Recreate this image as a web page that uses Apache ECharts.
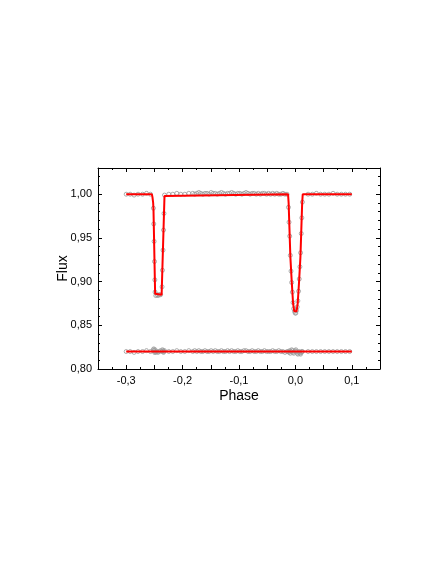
<!DOCTYPE html>
<html>
<head>
<meta charset="utf-8">
<script src="https://cdn.jsdelivr.net/npm/echarts@6/dist/echarts.min.js"></script>
<style>
html,body{margin:0;padding:0;background:#fff;}
#c{width:436px;height:564px;}
</style>
</head>
<body>
<div id="c"></div>
<script>
// Observed light curve points (phase, flux)
const obsPhase = [
  -0.300, -0.293, -0.286, -0.279, -0.271, -0.264, -0.257,
  -0.2518, -0.2511, -0.2505, -0.2498, -0.2492, -0.2488,
  -0.2475, -0.2455, -0.2435, -0.2415, -0.2390,
  -0.2364, -0.2357, -0.2347, -0.2338, -0.2330, -0.2321,
  -0.2245, -0.2174, -0.2103, -0.2032, -0.1961, -0.1890,
  -0.1820, -0.1785, -0.1748, -0.1712, -0.1676, -0.1640, -0.1603, -0.1567, -0.1531, -0.1494,
  -0.1458, -0.1421, -0.1385, -0.1349, -0.1312, -0.1276, -0.1240, -0.1203, -0.1167, -0.1131,
  -0.1094, -0.1058, -0.1021, -0.0985, -0.0949, -0.0912, -0.0876, -0.0840, -0.0803, -0.0767,
  -0.0731, -0.0694, -0.0658, -0.0621, -0.0585, -0.0549, -0.0512, -0.0476, -0.0440, -0.0403,
  -0.0367, -0.0331, -0.0294, -0.0258, -0.0221, -0.0185, -0.0149,
  -0.0123, -0.0113, -0.0101, -0.0090, -0.0078, -0.0066, -0.0054, -0.0042, -0.0030, -0.0016,
  -0.0004, 0.0008, 0.0020, 0.0032, 0.0044, 0.0056, 0.0068, 0.0080, 0.0092, 0.0104, 0.0114, 0.0124,
  0.0225, 0.0300, 0.0372, 0.0447, 0.0520, 0.0594, 0.0668, 0.0741, 0.0815, 0.0888, 0.0962
];
const obsFlux = [
  1.000, 1.000, 0.999, 1.000, 1.000, 1.001, 1.000,
  0.984, 0.966, 0.946, 0.923, 0.902, 0.888,
  0.884, 0.885, 0.884, 0.885, 0.885,
  0.894, 0.913, 0.936, 0.959, 0.978, 0.999,
  1.000, 1.000, 1.001, 1.000, 1.000, 1.001,
  1.001, 1.000, 1.001, 1.002, 1.001, 1.000, 1.001, 1.001, 1.000, 1.002,
  1.001, 1.001, 1.000, 1.001, 1.002, 1.001, 1.000, 1.001, 1.001, 1.002,
  1.001, 1.000, 1.001, 1.001, 1.000, 1.001, 1.002, 1.001, 1.000, 1.001,
  1.001, 1.000, 1.001, 1.000, 1.001, 1.001, 1.000, 1.001, 1.000, 1.001,
  1.000, 1.001, 1.000, 1.000, 1.001, 1.000, 1.000,
  0.985, 0.968, 0.952, 0.930, 0.912, 0.899, 0.888, 0.876, 0.869, 0.866,
  0.864, 0.864, 0.867, 0.871, 0.878, 0.889, 0.903, 0.917, 0.933, 0.955, 0.973, 0.991,
  1.000, 1.000, 1.001, 1.000, 1.000, 1.000, 1.001, 1.000, 1.000, 1.000, 1.000
];
// Residuals (shifted to 0.82)
const residFlux = [
  0.820, 0.820, 0.819, 0.820, 0.820, 0.821, 0.820,
  0.822, 0.823, 0.821, 0.819, 0.820, 0.822,
  0.819, 0.820, 0.819, 0.820, 0.821,
  0.820, 0.822, 0.821, 0.819, 0.820, 0.821,
  0.820, 0.820, 0.821, 0.820, 0.820, 0.821,
  0.820, 0.821, 0.820, 0.821, 0.820, 0.820, 0.821, 0.820, 0.820, 0.821,
  0.820, 0.821, 0.820, 0.820, 0.821, 0.820, 0.820, 0.821, 0.820, 0.821,
  0.820, 0.820, 0.821, 0.820, 0.820, 0.821, 0.821, 0.820, 0.820, 0.821,
  0.820, 0.820, 0.821, 0.820, 0.820, 0.821, 0.820, 0.820, 0.820, 0.821,
  0.820, 0.820, 0.821, 0.820, 0.820, 0.819, 0.820,
  0.820, 0.819, 0.821, 0.818, 0.820, 0.822, 0.821, 0.819, 0.818, 0.820,
  0.821, 0.822, 0.820, 0.818, 0.817, 0.819, 0.820, 0.818, 0.817, 0.819, 0.820, 0.820,
  0.820, 0.820, 0.820, 0.820, 0.820, 0.820, 0.820, 0.820, 0.820, 0.820, 0.820
];
// Model light curve
const modelPhase = [
  -0.3000, -0.2545, -0.2535, -0.2522, -0.2516, -0.2487, -0.2478, -0.2372, -0.2368, -0.2321, -0.2316,
  -0.0130, -0.0120, -0.0105, -0.0089, -0.0065, -0.0041, -0.0020, 0.0000,
  0.0020, 0.0041, 0.0065, 0.0089, 0.0105, 0.0120, 0.0130, 0.1000
];
const modelFlux = [
  1.000, 1.000, 0.997, 0.990, 0.982, 0.886, 0.885, 0.885, 0.887, 0.998, 1.000,
  1.000, 0.990, 0.960, 0.928, 0.900, 0.875, 0.866, 0.864,
  0.866, 0.875, 0.900, 0.928, 0.960, 0.990, 1.000, 1.000
];
const residModelPhase = [-0.3, 0.1];
const residModelFlux = [0.82, 0.82];

const xTitle = 'Phase';
const yTitle = 'Flux';

const zip = (a, b) => a.map((v, i) => [v, b[i]]);
const FONT = 'Liberation Sans, Arial, sans-serif';

const chart = echarts.init(document.getElementById('c'), null, {renderer: 'canvas'});

const xFmt = v => {
  const t = v * 10;
  if (Math.abs(t - Math.round(t)) > 1e-6) return '';
  const r = Math.round(t) / 10;
  return (Math.abs(r) < 1e-9 ? 0 : r).toFixed(1).replace('.', ',');
};
const yFmt = v => v.toFixed(2).replace('.', ',');

const tickCommon = {show: true, inside: true, length: 4, lineStyle: {color: '#000', width: 1}};
const minorCommon = {show: true, length: 2, lineStyle: {color: '#000', width: 1}};

chart.setOption({
  animation: false,
  backgroundColor: '#fff',
  grid: {left: 98, right: 56, top: 168, bottom: 195, containLabel: false},
  xAxis: [
    {
      type: 'value', position: 'bottom', min: -0.35, max: 0.15, interval: 0.05,
      name: xTitle, nameLocation: 'middle', nameGap: 20, nameMoveOverlap: false,
      nameTextStyle: {fontFamily: FONT, fontSize: 14, color: '#000'},
      axisLine: {show: true, onZero: false, lineStyle: {color: '#000', width: 1}},
      axisTick: tickCommon,
      minorTick: Object.assign({splitNumber: 2}, minorCommon),
      axisLabel: {formatter: xFmt, fontFamily: FONT, fontSize: 11, color: '#000', margin: 6, interval: 0},
      splitLine: {show: false}
    },
    {
      type: 'value', position: 'top', min: -0.35, max: 0.15, interval: 0.05,
      axisLine: {show: true, onZero: false, lineStyle: {color: '#000', width: 1}},
      axisTick: tickCommon,
      minorTick: Object.assign({splitNumber: 2}, minorCommon),
      axisLabel: {show: false},
      splitLine: {show: false}
    }
  ],
  yAxis: [
    {
      type: 'value', position: 'left', min: 0.80, max: 1.03, interval: 0.05,
      name: yTitle, nameLocation: 'middle', nameGap: 28, nameRotate: 90, nameMoveOverlap: false,
      nameTextStyle: {fontFamily: FONT, fontSize: 14, color: '#000'},
      axisLine: {show: true, onZero: false, lineStyle: {color: '#000', width: 1}},
      axisTick: tickCommon,
      minorTick: Object.assign({splitNumber: 5}, minorCommon),
      axisLabel: {formatter: yFmt, fontFamily: FONT, fontSize: 11, color: '#000', margin: 6, showMaxLabel: false},
      splitLine: {show: false}
    },
    {
      type: 'value', position: 'right', min: 0.80, max: 1.03, interval: 0.05,
      axisLine: {show: true, onZero: false, lineStyle: {color: '#000', width: 1}},
      axisTick: tickCommon,
      minorTick: Object.assign({splitNumber: 5}, minorCommon),
      axisLabel: {show: false},
      splitLine: {show: false}
    }
  ],
  series: [
    {
      type: 'scatter', xAxisIndex: 0, yAxisIndex: 0, z: 2,
      data: zip(obsPhase, obsFlux), symbol: 'circle', symbolSize: 4,
      itemStyle: {color: 'rgba(255,255,255,0)', borderColor: '#999999', borderWidth: 1}
    },
    {
      type: 'scatter', xAxisIndex: 0, yAxisIndex: 0, z: 2,
      data: zip(obsPhase, residFlux), symbol: 'circle', symbolSize: 4,
      itemStyle: {color: 'rgba(255,255,255,0)', borderColor: '#999999', borderWidth: 1}
    },
    {
      type: 'line', xAxisIndex: 0, yAxisIndex: 0, z: 3,
      data: zip(modelPhase, modelFlux), showSymbol: false, smooth: false,
      lineStyle: {color: '#ff0000', width: 2}
    },
    {
      type: 'line', xAxisIndex: 0, yAxisIndex: 0, z: 3,
      data: zip(residModelPhase, residModelFlux), showSymbol: false,
      lineStyle: {color: '#ff0000', width: 2}
    }
  ]
});
</script>
</body>
</html>
